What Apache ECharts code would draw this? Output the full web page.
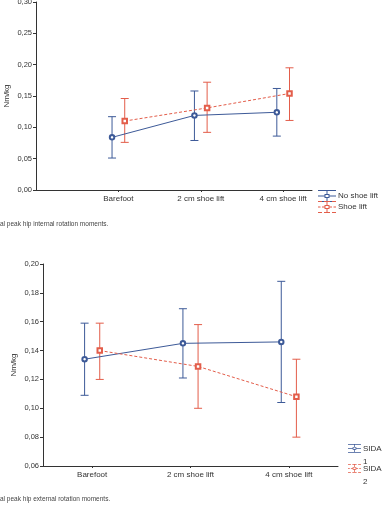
<!doctype html>
<html>
<head>
<meta charset="UTF-8">
<title></title>
<script src="https://cdn.jsdelivr.net/npm/echarts@6.0.0/dist/echarts.min.js"></script>
<style>
	html, body{ margin:0; padding:0; background:#fff; }
	#main{ width:382px; height:512px; }
</style>
</head>
<body>
<div id="main"></div>
<script>
	// categories (x axis)
	var categories = ['Barefoot', '2 cm shoe lift', '4 cm shoe lift'];

	// top chart: peak hip internal rotation moment (Nm/kg)
	var noLiftMean = [0.084, 0.119, 0.124];
	var noLiftLow  = [0.051, 0.079, 0.086];
	var noLiftHigh = [0.117, 0.158, 0.162];
	var liftMean = [0.110, 0.131, 0.154];
	var liftLow  = [0.076, 0.092, 0.111];
	var liftHigh = [0.146, 0.172, 0.195];

	// bottom chart: peak hip external rotation moment (Nm/kg)
	var sida1Mean = [0.134, 0.145, 0.146];
	var sida1Low  = [0.109, 0.121, 0.104];
	var sida1High = [0.159, 0.169, 0.188];
	var sida2Mean = [0.140, 0.129, 0.108];
	var sida2Low  = [0.120, 0.100, 0.080];
	var sida2High = [0.159, 0.158, 0.134];

	var blue = '#3d5a98';
	var red = '#e35d4a';
	var axisColor = '#333';
	var shift = 0.077;

	function pts(mean, dx){
		return mean.map(function(v, i){ return [i + 1 + dx, v]; });
	}
	function bars(low, high, dx){
		return low.map(function(v, i){ return [i + 1 + dx, v, high[i]]; });
	}
	function errRender(params, api){
		var x = api.value(0);
		var top = api.coord([x, api.value(2)]);
		var bot = api.coord([x, api.value(1)]);
		var w = 4;
		var st = { stroke: api.visual('color'), lineWidth: 1 };
		return { type: 'group', children: [
			{ type: 'line', shape: { x1: top[0], y1: top[1], x2: bot[0], y2: bot[1] }, style: st },
			{ type: 'line', shape: { x1: top[0] - w, y1: top[1], x2: top[0] + w, y2: top[1] }, style: st },
			{ type: 'line', shape: { x1: bot[0] - w, y1: bot[1], x2: bot[0] + w, y2: bot[1] }, style: st }
		]};
	}
	function comma(v){ return v.toFixed(2).replace('.', ','); }

	// legend icons: sideways error bar with marker
	var iconBlue = 'path://M0 0H18V1H0Z M0 11H18V12H0Z M8.5 1H9.5V4H8.5Z M8.5 8H9.5V11H8.5Z M0 5.5H6.5V6.5H0Z M11.5 5.5H18V6.5H11.5Z M6.5 4H11.5V8H6.5Z M7.5 5V7H10.5V5Z';
	var iconRed = 'path://M0 0H4V1H0Z M6 0H12V1H6Z M14 0H18V1H14Z M0 11H4V12H0Z M6 11H12V12H6Z M14 11H18V12H14Z M8.5 1H9.5V4H8.5Z M8.5 8H9.5V11H8.5Z M0 5.5H2.5V6.5H0Z M4 5.5H6.5V6.5H4Z M11.5 5.5H14V6.5H11.5Z M15.5 5.5H18V6.5H15.5Z M6.5 4H11.5V8H6.5Z M7.5 5V7H10.5V5Z';
	var tall = ' M0 30.5 M18 30.5';

	function xAx(grid, min, max){
		return {
			gridIndex: grid, type: 'value', min: min, max: max,
			splitLine: { show: false },
			axisLine: { onZero: false, lineStyle: { color: axisColor, width: 1 } },
			axisTick: { customValues: [1, 2, 3], length: 2, lineStyle: { color: axisColor } },
			axisLabel: {
				customValues: [1, 2, 3], margin: 5, fontSize: 8, color: axisColor,
				fontFamily: 'Liberation Sans',
				formatter: function(v){ return categories[Math.round(v) - 1] || ''; }
			}
		};
	}
	function yAx(grid, min, max, step, gap){
		return {
			gridIndex: grid, type: 'value', min: min, max: max, interval: step,
			name: 'Nm/kg', nameLocation: 'middle', nameGap: gap, nameMoveOverlap: false,
			nameTextStyle: { fontSize: 8, color: axisColor, fontFamily: 'Liberation Sans' },
			splitLine: { show: false },
			axisLine: { show: true, onZero: false, lineStyle: { color: axisColor, width: 1 } },
			axisTick: { show: true, length: 3, lineStyle: { color: axisColor } },
			axisLabel: { margin: 4, fontSize: 7.5, color: axisColor, fontFamily: 'Liberation Sans', formatter: comma }
		};
	}
	function lineS(name, axis, data, color, sym, dashed){
		return {
			name: name, type: 'line', xAxisIndex: axis, yAxisIndex: axis, data: data,
			symbol: sym, symbolSize: 4.5, z: 3,
			itemStyle: { color: color, borderWidth: 0.8 },
			lineStyle: { color: color, width: 1, type: dashed ? [3, 2] : 'solid' }
		};
	}
	function errS(name, axis, data, color){
		return {
			name: name, type: 'custom', xAxisIndex: axis, yAxisIndex: axis, data: data,
			renderItem: errRender, itemStyle: { color: color }, z: 2,
			encode: { x: 0, y: [1, 2] }
		};
	}

	var chart = echarts.init(document.getElementById('main'));
	chart.setOption({
		animation: false,
		backgroundColor: '#fff',
		grid: [
			{ left: 36, top: 2, width: 276, height: 188, outerBoundsMode: 'none', containLabel: false },
			{ left: 43, top: 264, width: 295, height: 202, outerBoundsMode: 'none', containLabel: false }
		],
		xAxis: [ xAx(0, 0, 3.35), xAx(1, 0.5, 3.5) ],
		yAxis: [ yAx(0, 0, 0.30, 0.05, 25), yAx(1, 0.06, 0.20, 0.02, 25) ],
		legend: [
			{
				left: 313, top: 185, orient: 'vertical', itemWidth: 18, itemHeight: 12, itemGap: -1,
				textStyle: { fontSize: 8, color: axisColor, fontFamily: 'Liberation Sans', padding: [0, 0, 0, -3] },
				data: [ { name: 'No shoe lift', icon: iconBlue }, { name: 'Shoe lift', icon: iconRed } ]
			},
			{
				left: 343, top: 437, orient: 'vertical', itemWidth: 13, itemHeight: 22, itemGap: -6,
				formatter: function(n){ return n.replace(' ', '\n'); },
				textStyle: { fontSize: 8, lineHeight: 13, color: axisColor, fontFamily: 'Liberation Sans', padding: [0, 0, 0, -3] },
				data: [ { name: 'SIDA 1', icon: iconBlue + tall }, { name: 'SIDA 2', icon: iconRed + tall } ]
			}
		],
		graphic: [
			{ type: 'text', left: 0, top: 221, style: { text: 'al peak hip internal rotation moments.', fontSize: 6.5, fill: '#444', fontFamily: 'Liberation Sans' } },
			{ type: 'text', left: 0, top: 496, style: { text: 'al peak hip external rotation moments.', fontSize: 6.5, fill: '#444', fontFamily: 'Liberation Sans' } }
		],
		series: [
			errS('No shoe lift', 0, bars(noLiftLow, noLiftHigh, -shift), blue),
			errS('Shoe lift', 0, bars(liftLow, liftHigh, shift), red),
			lineS('No shoe lift', 0, pts(noLiftMean, -shift), blue, 'emptyCircle', false),
			lineS('Shoe lift', 0, pts(liftMean, shift), red, 'emptyRect', true),
			errS('SIDA 1', 1, bars(sida1Low, sida1High, -shift), blue),
			errS('SIDA 2', 1, bars(sida2Low, sida2High, shift), red),
			lineS('SIDA 1', 1, pts(sida1Mean, -shift), blue, 'emptyCircle', false),
			lineS('SIDA 2', 1, pts(sida2Mean, shift), red, 'emptyRect', true)
		]
	});
</script>
</body>
</html>
